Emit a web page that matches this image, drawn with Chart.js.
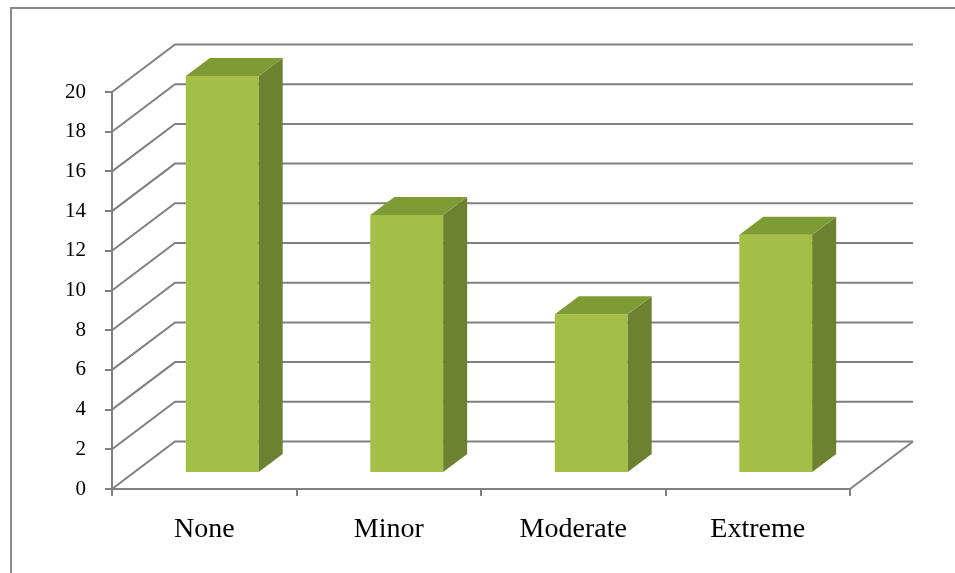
<!DOCTYPE html>
<html>
<head>
<meta charset="utf-8">
<script src="https://cdn.jsdelivr.net/npm/chart.js@4"></script>
<style>
  html, body { margin: 0; padding: 0; background: #fff; }
  #wrap { position: relative; width: 955px; height: 573px; }
  #frame { position: absolute; left: 10px; top: 7px; width: 960px; height: 600px; border: 2px solid #8a8a8a; box-sizing: border-box; }
  canvas { position: absolute; left: 0; top: 0; }
</style>
</head>
<body>
<div id="wrap">
  <div id="frame"></div>
  <canvas id="impactChart" width="955" height="573"></canvas>
</div>
<script>
// Chart data
const categories = ["None", "Minor", "Moderate", "Extreme"];
const counts = [20, 13, 8, 12];
const yMin = 0, yMax = 20, yStep = 2;

// 3D look: back wall offset from the front axis plane, and where bars sit in depth
const wallDepth = { dx: 63, dy: -47.5 };
const barFront = { dx: 18, dy: -16 };
const barDepth = { dx: 24, dy: -18 };
const gridColor = "#808080";
const faceColor = "#a3bf47";
const sideColor = "#6c8230";
const topColor = "#7f9b36";

// Draws the back wall, floor and the depth lines behind the bars
const wallPlugin = {
    id: "wall3d",
    beforeDatasetsDraw(chart) {
        const { ctx, chartArea: a, scales } = chart;
        const y = scales.y;
        ctx.save();
        ctx.strokeStyle = gridColor;
        ctx.lineWidth = 2;
        for (let v = yMin; v <= yMax; v += yStep) {
            const py = y.getPixelForValue(v);
            ctx.beginPath();
            ctx.moveTo(a.left, py);
            ctx.lineTo(a.left + wallDepth.dx, py + wallDepth.dy);
            ctx.lineTo(a.right + wallDepth.dx, py + wallDepth.dy);
            ctx.stroke();
        }
        // right edge of the floor
        ctx.beginPath();
        ctx.moveTo(a.right, a.bottom);
        ctx.lineTo(a.right + wallDepth.dx, a.bottom + wallDepth.dy);
        ctx.stroke();
        ctx.restore();

        // bars are drawn a little into the depth
        ctx.save();
        ctx.translate(barFront.dx, barFront.dy);
    },
    afterDatasetsDraw(chart) {
        const { ctx } = chart;
        chart.getDatasetMeta(0).data.forEach(bar => {
            const left = bar.x - bar.width / 2, right = bar.x + bar.width / 2;
            const top = bar.y, base = bar.base;
            // side face
            ctx.fillStyle = sideColor;
            ctx.beginPath();
            ctx.moveTo(right, top);
            ctx.lineTo(right + barDepth.dx, top + barDepth.dy);
            ctx.lineTo(right + barDepth.dx, base + barDepth.dy);
            ctx.lineTo(right, base);
            ctx.closePath();
            ctx.fill();
            // top face
            ctx.fillStyle = topColor;
            ctx.beginPath();
            ctx.moveTo(left, top);
            ctx.lineTo(left + barDepth.dx, top + barDepth.dy);
            ctx.lineTo(right + barDepth.dx, top + barDepth.dy);
            ctx.lineTo(right, top);
            ctx.closePath();
            ctx.fill();
        });
        ctx.restore();
    }
};

new Chart(document.getElementById("impactChart"), {
    type: "bar",
    data: {
        labels: categories,
        datasets: [{
            data: counts,
            backgroundColor: faceColor,
            borderWidth: 0,
            barPercentage: 0.79,
            categoryPercentage: 0.5
        }]
    },
    options: {
        responsive: false,
        animation: false,
        layout: { padding: { left: 0, top: 92, right: 105, bottom: 0 } },
        plugins: {
            legend: { display: false },
            tooltip: { enabled: false }
        },
        scales: {
            x: {
                afterFit: s => { s.height = 84; },
                grid: { drawOnChartArea: false, tickLength: 7, color: gridColor, lineWidth: 2 },
                border: { color: gridColor, width: 2 },
                ticks: { color: "#000", padding: 17, font: { family: "Liberation Serif", size: 28 } }
            },
            y: {
                min: yMin,
                max: yMax,
                afterFit: s => { s.width = 112; },
                grid: { drawOnChartArea: false, tickLength: 7, color: gridColor, lineWidth: 2 },
                border: { color: gridColor, width: 2 },
                ticks: { stepSize: yStep, color: "#000", padding: 19, font: { family: "Liberation Serif", size: 21 } }
            }
        }
    },
    plugins: [wallPlugin]
});
</script>
</body>
</html>
